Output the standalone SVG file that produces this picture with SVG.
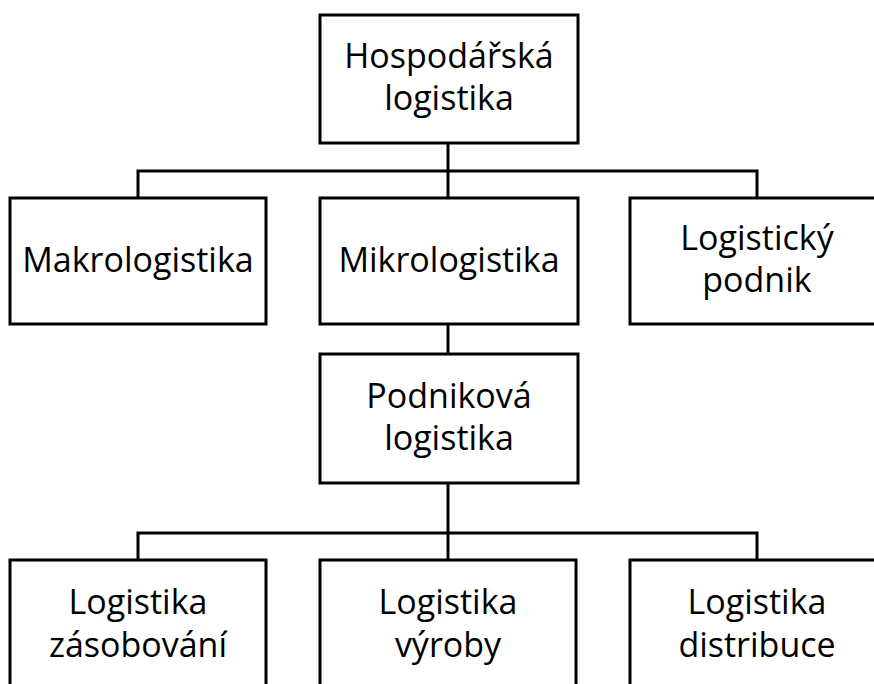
<svg xmlns="http://www.w3.org/2000/svg" width="874" height="684" viewBox="0 0 874 684">
<style>
.box{fill:#fff;stroke:#000;stroke-width:3}
.lbl{font-family:"Open Sans","Liberation Sans",sans-serif;font-size:34px;fill:#000;text-anchor:middle}
.con{fill:none;stroke:#000;stroke-width:3}
</style>
<rect width="874" height="684" fill="#fff"/>
<g id="connectors">
<path class="con" d="M448,143 V198"/>
<path class="con" d="M138,198 V171 H757 V198"/>
<path class="con" d="M448,324 V354"/>
<path class="con" d="M448,483 V560"/>
<path class="con" d="M138,560 V533 H757 V560"/>
</g>
<g id="hospodarska">
<rect class="box" x="320" y="15" width="258" height="128"/>
<text class="lbl" x="449" y="68">Hospodářská</text>
<text class="lbl" x="449" y="110">logistika</text>
</g>
<g id="makro">
<rect class="box" x="10" y="198" width="256" height="126"/>
<text class="lbl" x="138" y="272">Makrologistika</text>
</g>
<g id="mikro">
<rect class="box" x="320" y="198" width="258" height="126"/>
<text class="lbl" x="449" y="272">Mikrologistika</text>
</g>
<g id="podnik">
<rect class="box" x="630" y="198" width="256" height="126"/>
<text class="lbl" x="757" y="250">Logistický</text>
<text class="lbl" x="757" y="292">podnik</text>
</g>
<g id="podnikova">
<rect class="box" x="320" y="354" width="258" height="129"/>
<text class="lbl" x="449" y="408">Podniková</text>
<text class="lbl" x="449" y="450">logistika</text>
</g>
<g id="zasobovani">
<rect class="box" x="10" y="560" width="256" height="140"/>
<text class="lbl" x="138" y="614">Logistika</text>
<text class="lbl" x="138" y="657">zásobování</text>
</g>
<g id="vyroby">
<rect class="box" x="320" y="560" width="256" height="140"/>
<text class="lbl" x="448" y="614">Logistika</text>
<text class="lbl" x="448" y="657">výroby</text>
</g>
<g id="distribuce">
<rect class="box" x="630" y="560" width="256" height="140"/>
<text class="lbl" x="757" y="614">Logistika</text>
<text class="lbl" x="757" y="657">distribuce</text>
</g>
</svg>
